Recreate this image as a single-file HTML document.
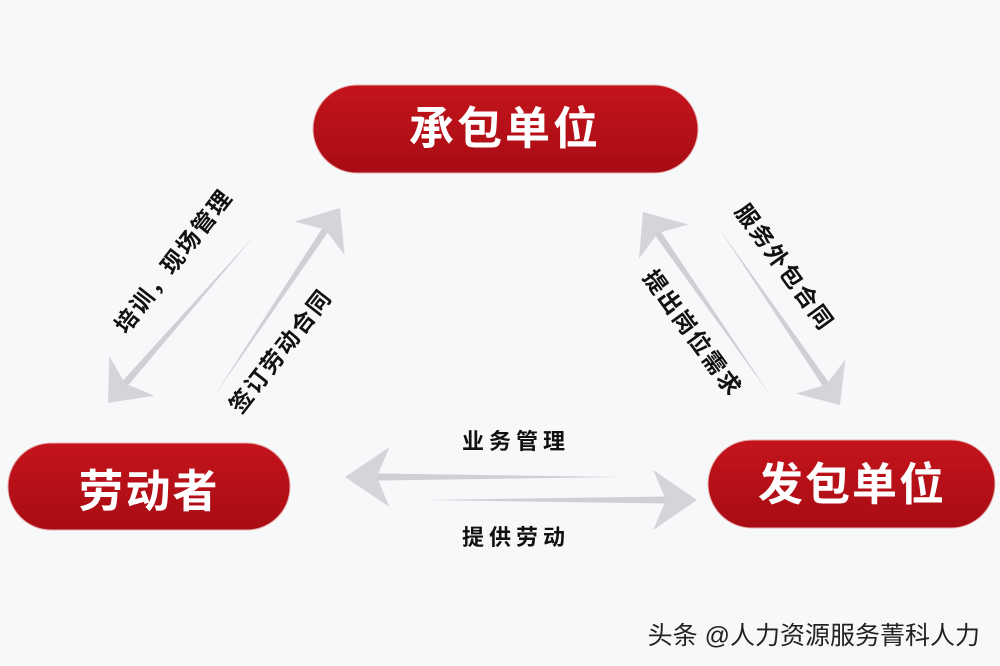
<!DOCTYPE html>
<html><head><meta charset="utf-8"><style>
html,body{margin:0;padding:0;background:#f7f8fa;}
svg{display:block}
text{font-family:"Liberation Sans","Noto Sans CJK SC",sans-serif;font-weight:bold}
</style></head><body>
<svg width="1000" height="666" viewBox="0 0 1000 666" xmlns="http://www.w3.org/2000/svg">
<defs>
<linearGradient id="rg" x1="0" y1="0" x2="0" y2="1">
<stop offset="0" stop-color="#c4141c"/><stop offset="1" stop-color="#a80c14"/>
</linearGradient>
<g id="arr">
<polygon points="-260,0 -30,-3.5 -30,3.5" fill="#cfd0d3"/>
<polygon points="0,0 -42,-30 -30,0 -42,30" fill="#d4d5d8"/>
</g>
</defs>
<rect width="1000" height="666" fill="#f7f8fa"/>
<rect x="313" y="85" width="385" height="88" rx="44" fill="url(#rg)" stroke="#e8b0b0" stroke-width="1"/>
<rect x="8" y="443" width="282" height="87" rx="43" fill="url(#rg)" stroke="#e8b0b0" stroke-width="1"/>
<rect x="708" y="440" width="287" height="88" rx="44" fill="url(#rg)" stroke="#e8b0b0" stroke-width="1"/>
<text x="505" y="144" font-size="45" fill="#fff" text-anchor="middle" letter-spacing="3">承包单位</text>
<text x="149" y="507" font-size="45" fill="#fff" text-anchor="middle" letter-spacing="2">劳动者</text>
<text x="852" y="500" font-size="45" fill="#fff" text-anchor="middle" letter-spacing="2">发包单位</text>
<g transform="translate(108,403) rotate(131.2) scale(0.86,1)"><use href="#arr"/></g>
<g transform="translate(340,208) rotate(-56.2) scale(0.87,1)"><use href="#arr"/></g>
<g transform="translate(643,212) rotate(-124.8) scale(0.86,1)"><use href="#arr"/></g>
<g transform="translate(840,405) rotate(55.6) scale(0.82,1)"><use href="#arr"/></g>
<g transform="translate(345,477) rotate(180) scale(1.06,1)"><use href="#arr"/></g>
<g transform="translate(697,500) scale(1.04,1)"><use href="#arr"/></g>
<g fill="#111" font-size="23" text-anchor="middle">
<text transform="translate(180,266) rotate(-52)" letter-spacing="2">培训，现场管理</text>
<text transform="translate(287,356) rotate(-52)" letter-spacing="2">签订劳动合同</text>
<text transform="translate(778,272) rotate(54)" letter-spacing="2">服务外包合同</text>
<text transform="translate(686,338) rotate(54)" letter-spacing="2">提出岗位需求</text>
<text x="516" y="449" font-size="22" letter-spacing="5">业务管理</text>
<text x="516" y="545" font-size="22" letter-spacing="5">提供劳动</text>
</g>
<text x="980" y="644" font-size="25" fill="#222" text-anchor="end" style="font-weight:normal">头条 @人力资源服务菁科人力</text>
</svg>
</body></html>
